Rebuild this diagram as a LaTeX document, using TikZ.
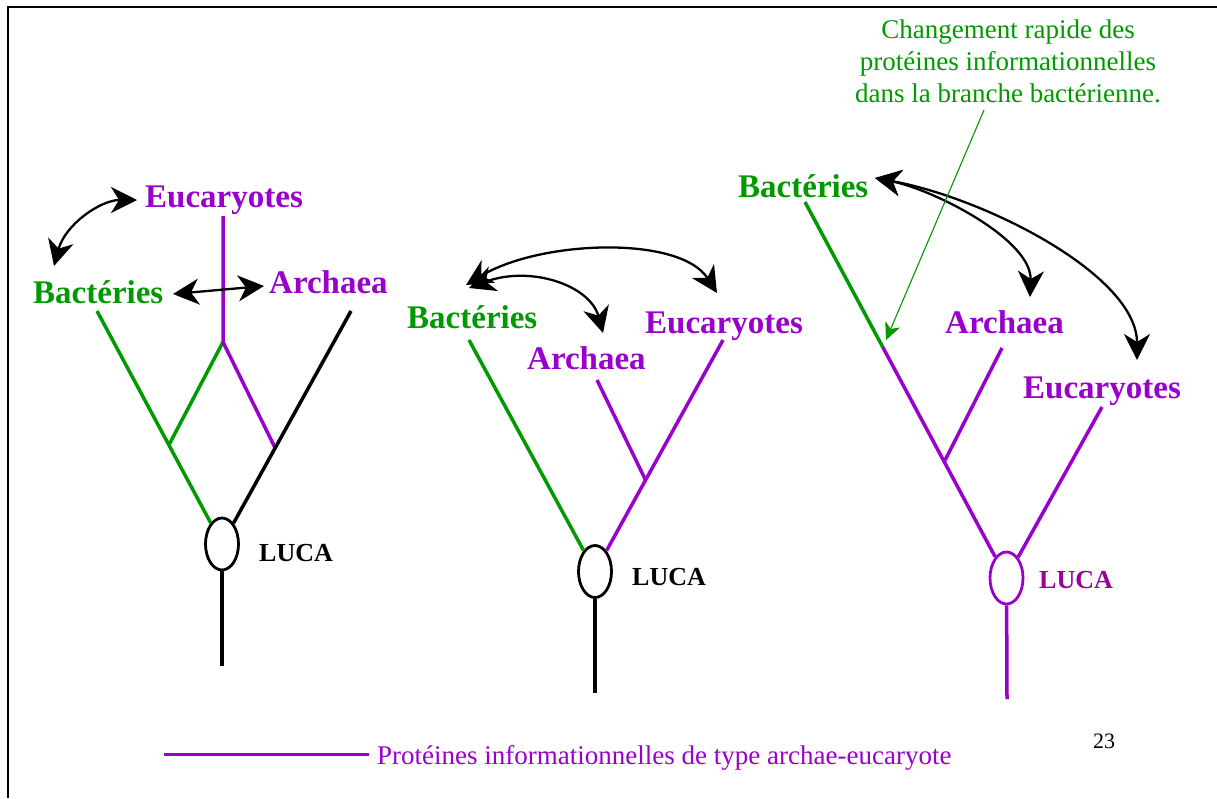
\documentclass[tikz,border=0pt]{standalone}
\usepackage{fontspec}
\setmainfont{Liberation Serif}
\usetikzlibrary{arrows.meta,shapes.geometric,calc}
\definecolor{cvert}{RGB}{0,153,0}
\definecolor{cviol}{RGB}{153,0,204}
\definecolor{cmag}{RGB}{153,0,153}
\tikzset{
  lbl/.style={font=\fontsize{33}{38}\selectfont\bfseries, inner sep=0pt, anchor=base west},
  lucatxt/.style={font=\fontsize{26}{30}\selectfont\bfseries, inner sep=0pt, anchor=base west},
  lucaell/.style={draw, ellipse, minimum width=33pt, minimum height=52pt, line width=2.8pt, inner sep=0pt},
  tree/.style={line width=3.5pt},
  dbl/.style={line width=2.3pt, arrows={Stealth[length=26pt,width=26pt,inset=8pt]-Stealth[length=26pt,width=26pt,inset=8pt]}},
  note/.style={font=\fontsize{27}{32}\selectfont, inner sep=0pt, align=center, text=cvert},
}
\begin{document}
\begin{tikzpicture}[x=1pt,y=-1pt]
\useasboundingbox (0,0) rectangle (1217,798);
% frame (left and top)
\draw[line width=2pt] (8,798) -- (8,7) -- (1217,7);

% ---------------- Panel 1 ----------------
\node[lbl, text=cviol] (e1) at (145,207) {Eucaryotes};
\node[lbl, text=cvert] (b1) at (33,303) {Bactéries};
\node[lbl, text=cviol] (a1) at (269,293) {Archaea};
\node[lucaell] (luca1) at (222,544) {};
\node[lucatxt] (lt1) at (259,561) {LUCA};
\coordinate (b1top) at (97,311);
\coordinate (a1top) at (351,311);
\coordinate (e1top) at (223,216);
\coordinate (j1) at (223,342);
\coordinate (root1) at (222,666);
\coordinate (gj1) at ($(b1top)!0.575!(luca1.center)$);
\coordinate (pj1) at ($(a1top)!0.588!(luca1.center)$);
\draw[tree, cvert] (b1top) -- (luca1);
\draw[tree, cvert] (j1) -- (gj1);
\draw[tree, cviol] (e1top) -- (j1) -- (pj1);
\draw[tree, black] (a1top) -- (luca1);
\draw[tree, black] (luca1) -- (root1);
\coordinate (ar1a) at (54,266);
\coordinate (ar1b) at (137,200);
\draw[dbl] (ar1a) .. controls (65,225) and (100,200) .. (ar1b);
\coordinate (ar1c) at (173,294);
\coordinate (ar1d) at (264,286);
\draw[dbl] (ar1c) -- (ar1d);

% ---------------- Panel 2 ----------------
\node[lbl, text=cvert] (b2) at (407,328) {Bactéries};
\node[lbl, text=cviol] (e2) at (645,333) {Eucaryotes};
\node[lbl, text=cviol] (a2) at (527,369) {Archaea};
\node[lucaell] (luca2) at (595,571.5) {};
\node[lucatxt] (lt2) at (632,585) {LUCA};
\coordinate (b2top) at (469,340);
\coordinate (e2top) at (723,340);
\coordinate (a2top) at (597,380);
\coordinate (root2) at (595,693);
\coordinate (aj2) at ($(e2top)!0.605!(luca2.center)$);
\draw[tree, cvert] (b2top) -- (luca2);
\draw[tree, cviol] (e2top) -- (luca2);
\draw[tree, cviol] (a2top) -- (aj2);
\draw[tree, black] (luca2) -- (root2);
\coordinate (ar2a) at (466,285);
\coordinate (ar2b) at (717,293);
\coordinate (ar2c) at (469,288);
\coordinate (ar2d) at (603,333);
\draw[dbl] (ar2a) .. controls (540,240) and (680,235) .. (ar2b);
\draw[dbl] (ar2c) .. controls (530,265) and (590,285) .. (ar2d);

% ---------------- Panel 3 ----------------
\node[note, anchor=north] (nt) at (1008,20) {Changement rapide des\\protéines informationnelles\\dans la branche bactérienne.};
\node[lbl, text=cvert] (b3) at (738,197) {Bactéries};
\node[lbl, text=cviol] (a3) at (945,333) {Archaea};
\node[lbl, text=cviol] (e3) at (1023,398) {Eucaryotes};
\node[lucaell, draw=cviol] (luca3) at (1006.5,578) {};
\node[lucatxt, text=cmag] (lt3) at (1039,588) {LUCA};
\coordinate (b3top) at (805,202);
\coordinate (a3top) at (1002,348);
\coordinate (e3top) at (1102,407);
\coordinate (root3) at (1007,699);
\coordinate (gs3) at ($(b3top)!0.386!(luca3.center)$);
\coordinate (aj3) at ($(b3top)!0.691!(luca3.center)$);
\draw[tree, cvert] (b3top) -- (gs3);
\draw[tree, cviol] (gs3) -- (luca3);
\draw[tree, cviol] (a3top) -- (aj3);
\draw[tree, cviol] (e3top) -- (luca3);
\draw[tree, cviol] (luca3) -- (root3);
\coordinate (ar3a) at (875,178);
\coordinate (ar3b) at (1030,297);
\coordinate (ar3c) at (1137,360);
\draw[dbl] (ar3a) .. controls (935,190) and (1032,240) .. (ar3b);
\draw[dbl] (ar3a) .. controls (985,198) and (1137,275) .. (ar3c);
\coordinate (ntfoot) at (984,110);
\coordinate (ntpt) at (886,340);
\draw[cvert, line width=1.1pt, arrows={-Stealth[length=17pt,width=16pt,inset=5pt]}] (ntfoot) -- (ntpt);

% ---------------- Legend ----------------
\node[font=\fontsize{27}{32}\selectfont, text=cviol, inner sep=0pt, anchor=base west] (leg) at (377,764) {Protéines informationnelles de type archae-eucaryote};
\coordinate (legs) at (164,754);
\coordinate (lege) at (369,754);
\draw[cviol, line width=3pt] (legs) -- (lege);
\node[font=\fontsize{22}{26}\selectfont, inner sep=0pt, anchor=base west] (pg) at (1093,748) {23};
\end{tikzpicture}
\end{document}
